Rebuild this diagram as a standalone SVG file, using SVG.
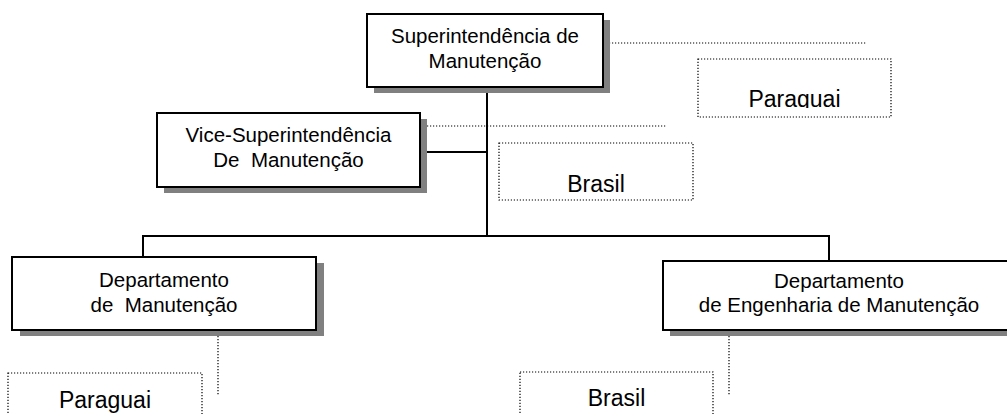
<svg xmlns="http://www.w3.org/2000/svg" width="1007" height="414" viewBox="0 0 1007 414">
<style>
.bg{fill:#fff}
.shadow{fill:#808080}
.box{fill:#fff;stroke:#000;stroke-width:2}
.dbox{fill:#fff;stroke:#000;stroke-width:1.2;stroke-dasharray:1.2 1.8}
.conn{stroke:#000;stroke-width:2;fill:none}
.dot{stroke:#000;stroke-width:1.2;stroke-dasharray:1.2 1.8;fill:none}
.t{font-family:"Liberation Sans",Arial,sans-serif;font-size:20.5px;fill:#000;text-anchor:middle}
.tb{font-family:"Liberation Sans",Arial,sans-serif;font-size:23px;fill:#000;text-anchor:middle}
</style>
<defs>
<clipPath id="clipPy"><rect x="698" y="59" width="200" height="49"/></clipPath>
</defs>
<rect class="bg" x="0" y="0" width="1007" height="414"/>
<g id="connectors">
<line class="conn" x1="487" y1="87" x2="487" y2="237"/>
<line class="conn" x1="420" y1="152" x2="487" y2="152"/>
<polyline class="conn" points="143,257 143,236 829,236 829,261"/>
<line class="dot" x1="606" y1="43" x2="867" y2="43"/>
<line class="dot" x1="400" y1="126" x2="667" y2="126"/>
<line class="dot" x1="218" y1="333" x2="218" y2="396"/>
<line class="dot" x1="729" y1="336" x2="729" y2="395"/>
</g>
<g id="superintendencia">
<rect class="shadow" x="374" y="20" width="236" height="73"/>
<rect class="box" x="367" y="14" width="236" height="73"/>
<text class="t" x="485" y="43">Superintendência de</text>
<text class="t" x="485" y="68">Manutenção</text>
</g>
<g id="vice-superintendencia">
<rect class="shadow" x="164" y="119" width="263" height="74"/>
<rect class="box" x="157" y="113" width="263" height="74"/>
<text class="t" x="288.5" y="142">Vice-Superintendência</text>
<text class="t" x="288.5" y="167" xml:space="preserve">De  Manutenção</text>
</g>
<g id="paraguai-top">
<rect class="dbox" x="698" y="59" width="193" height="58"/>
<text class="tb" x="794.5" y="107" clip-path="url(#clipPy)">Paraguai</text>
</g>
<g id="brasil-mid">
<rect class="dbox" x="499" y="143" width="194" height="57"/>
<text class="tb" x="596" y="192">Brasil</text>
</g>
<g id="dept-manutencao">
<rect class="shadow" x="20" y="263" width="304" height="73"/>
<rect class="box" x="12" y="257" width="304" height="73"/>
<text class="t" x="164" y="287">Departamento</text>
<text class="t" x="164" y="312" xml:space="preserve">de  Manutenção</text>
</g>
<g id="dept-engenharia">
<rect class="shadow" x="670" y="267" width="360" height="69"/>
<rect class="box" x="663" y="261" width="360" height="69"/>
<text class="t" x="839" y="288">Departamento</text>
<text class="t" x="839" y="312">de Engenharia de Manutenção</text>
</g>
<g id="paraguai-bottom">
<rect class="dbox" x="8" y="373" width="194" height="60"/>
<text class="tb" x="105" y="408">Paraguai</text>
</g>
<g id="brasil-bottom">
<rect class="dbox" x="520" y="372" width="193" height="60"/>
<text class="tb" x="616.5" y="406">Brasil</text>
</g>
</svg>
